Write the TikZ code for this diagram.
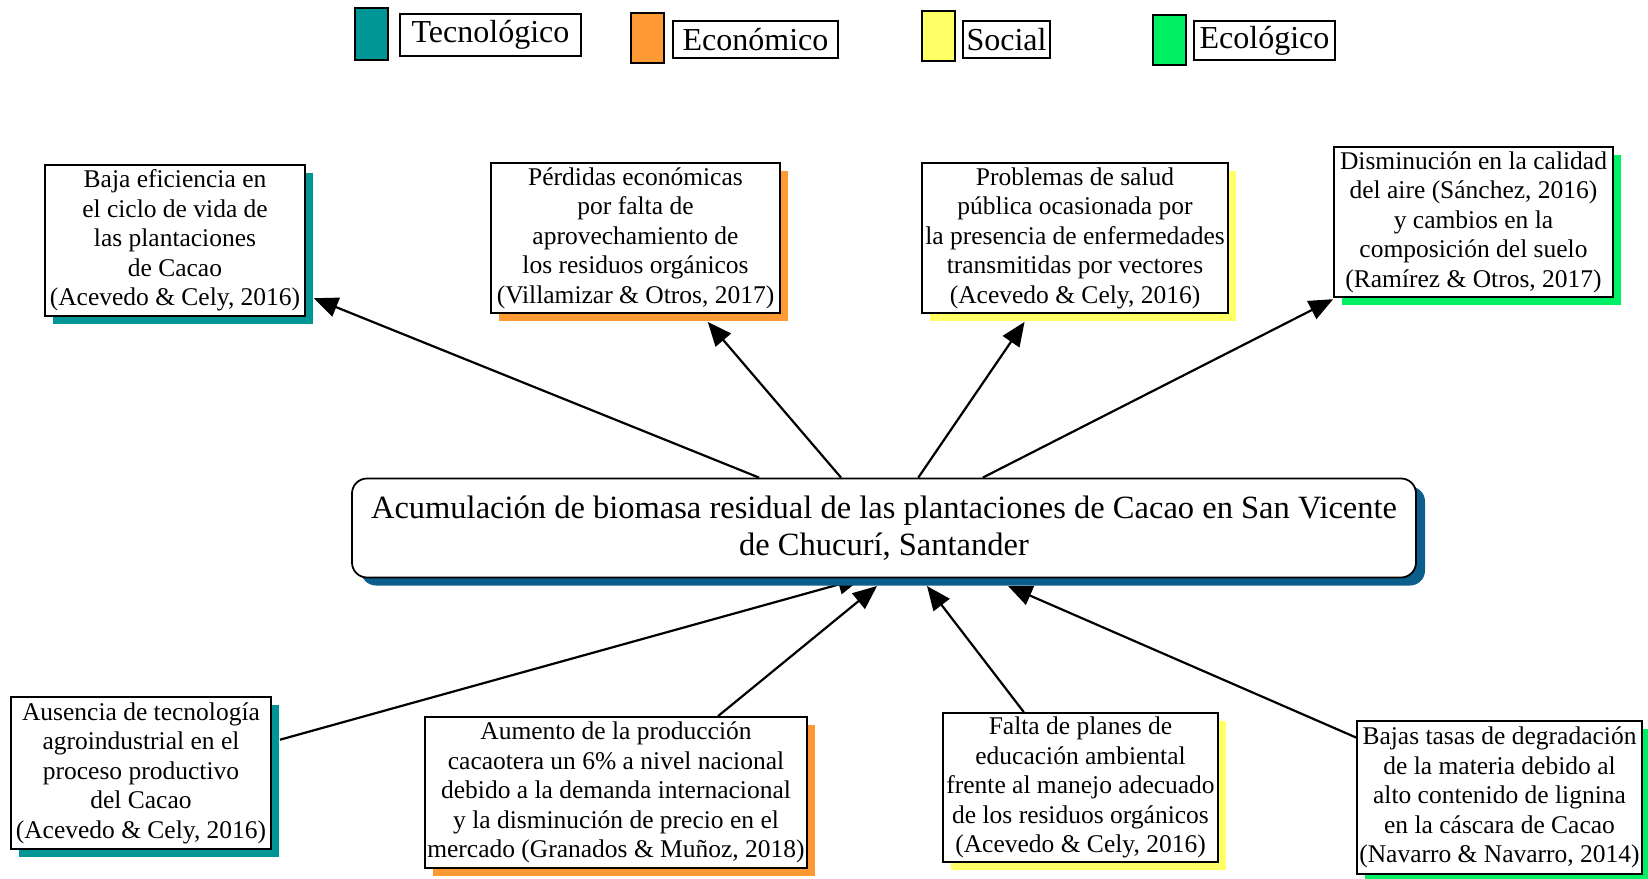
\documentclass[tikz,border=0pt]{standalone}
\usepackage{fontspec}
\setmainfont{Liberation Serif}
\usetikzlibrary{shadows,fit,backgrounds,arrows.meta,calc}
\definecolor{tealc}{RGB}{0,150,150}
\definecolor{orangec}{RGB}{255,153,51}
\definecolor{yellowc}{RGB}{255,255,102}
\definecolor{greenc}{RGB}{0,240,100}
\definecolor{bluec}{RGB}{12,94,140}
\tikzset{
  box/.style={draw=black, line width=1.8pt, fill=white, align=center, inner sep=2pt,
    font=\fontsize{25.5}{29.5}\selectfont},
  sh/.style={general shadow={fill=#1, shadow xshift=8pt, shadow yshift=-8pt}},
  central/.style={draw=black, line width=1.8pt, fill=white, rounded corners=15pt, align=center,
    font=\fontsize{32.5}{37}\selectfont,
    general shadow={fill=bluec, shadow xshift=9pt, shadow yshift=-8pt}},
  hull/.style={inner sep=0pt, outer sep=0pt, draw=none},
  arr/.style={line width=2.2pt, -{Triangle[length=24pt,width=20pt]}},
  swatch/.style={draw=black, line width=1.5pt},
  legbox/.style={draw=black, line width=1.2pt, fill=white, inner sep=0pt,
    font=\fontsize{32}{36}\selectfont},
}
\begin{document}
\begin{tikzpicture}[x=1pt,y=-1pt]
\useasboundingbox (0,0) rectangle (1648,878);
% legend
\node[swatch, fill=tealc, minimum width=33pt, minimum height=52pt] (s1) at (371.5,34) {};
\node[legbox, minimum width=181pt, minimum height=42pt] (l1) at (490.5,35) {Tecnológico};
\node[swatch, fill=orangec, minimum width=33pt, minimum height=50pt] (s2) at (647.5,38) {};
\node[legbox, minimum width=165pt, minimum height=37pt] (l2) at (755.5,39.5) {Económico};
\node[swatch, fill=yellowc, minimum width=33pt, minimum height=50pt] (s3) at (938.5,36) {};
\node[legbox, minimum width=87pt, minimum height=37pt] (l3) at (1006.5,39.5) {Social};
\node[swatch, fill=greenc, minimum width=33pt, minimum height=50pt] (s4) at (1169.5,40) {};
\node[legbox, minimum width=141pt, minimum height=39pt] (l4) at (1264.5,40.5) {Ecológico};

% central
\node[central, minimum width=1064pt, minimum height=99pt] (c) at (884,528)
  {Acumulación de biomasa residual de las plantaciones de Cacao en San Vicente\\de Chucurí, Santander};

% top boxes
\node[box, sh=tealc, minimum width=260pt, minimum height=151pt] (b1) at (175,240.5)
  {Baja eficiencia en\\el ciclo de vida de\\las plantaciones\\de Cacao\\(Acevedo \& Cely, 2016)};
\node[box, sh=orangec, minimum width=289pt, minimum height=150pt] (b2) at (635.5,238)
  {Pérdidas económicas\\por falta de\\aprovechamiento de\\los residuos orgánicos\\(Villamizar \& Otros, 2017)};
\node[box, sh=yellowc, minimum width=306pt, minimum height=150pt] (b3) at (1075,238)
  {Problemas de salud\\pública ocasionada por\\la presencia de enfermedades\\transmitidas por vectores\\(Acevedo \& Cely, 2016)};
\node[box, sh=greenc, minimum width=279pt, minimum height=150pt] (b4) at (1473.5,222)
  {Disminución en la calidad\\del aire (Sánchez, 2016)\\y cambios en la\\composición del suelo\\(Ramírez \& Otros, 2017)};

% bottom boxes
\node[box, sh=tealc, minimum width=260pt, minimum height=152pt] (b5) at (141,773)
  {Ausencia de tecnología\\agroindustrial en el\\proceso productivo\\del Cacao\\(Acevedo \& Cely, 2016)};
\node[box, sh=orangec, minimum width=380pt, minimum height=151pt] (b6) at (616,792.5)
  {Aumento de la producción\\cacaotera un 6\% a nivel nacional\\debido a la demanda internacional\\y la disminución de precio en el\\mercado (Granados \& Muñoz, 2018)};
\node[box, sh=yellowc, minimum width=275pt, minimum height=149pt] (b7) at (1080.5,787.5)
  {Falta de planes de\\educación ambiental\\frente al manejo adecuado\\de los residuos orgánicos\\(Acevedo \& Cely, 2016)};
\node[box, sh=greenc, minimum width=283pt, minimum height=153pt] (b8) at (1499.5,797.5)
  {Bajas tasas de degradación\\de la materia debido al\\alto contenido de lignina\\en la cáscara de Cacao\\(Navarro \& Navarro, 2014)};

% hulls (box + shadow)
\foreach \i in {1,...,8}{
  \coordinate (se\i) at ($(b\i.south east)+(8,8)$);
  \node[hull, fit=(b\i.north west)(se\i)] (h\i) {};
}

% arrow targets on the central node
\coordinate (t5) at (862,578);
\coordinate (t6) at (877,586);
\coordinate (t7) at (927,586);
\coordinate (t8) at (1008,586);

\begin{scope}[on background layer]
\draw[arr] (c) -- (h1);
\draw[arr] (c) -- (h2);
\draw[arr] (c) -- (h3);
\draw[arr] (c) -- (h4);
\draw[arr] (h5) -- (t5);
\draw[arr] (h6) -- (t6);
\draw[arr] (h7) -- (t7);
\draw[arr] (h8) -- (t8);
\end{scope}
\end{tikzpicture}
\end{document}
